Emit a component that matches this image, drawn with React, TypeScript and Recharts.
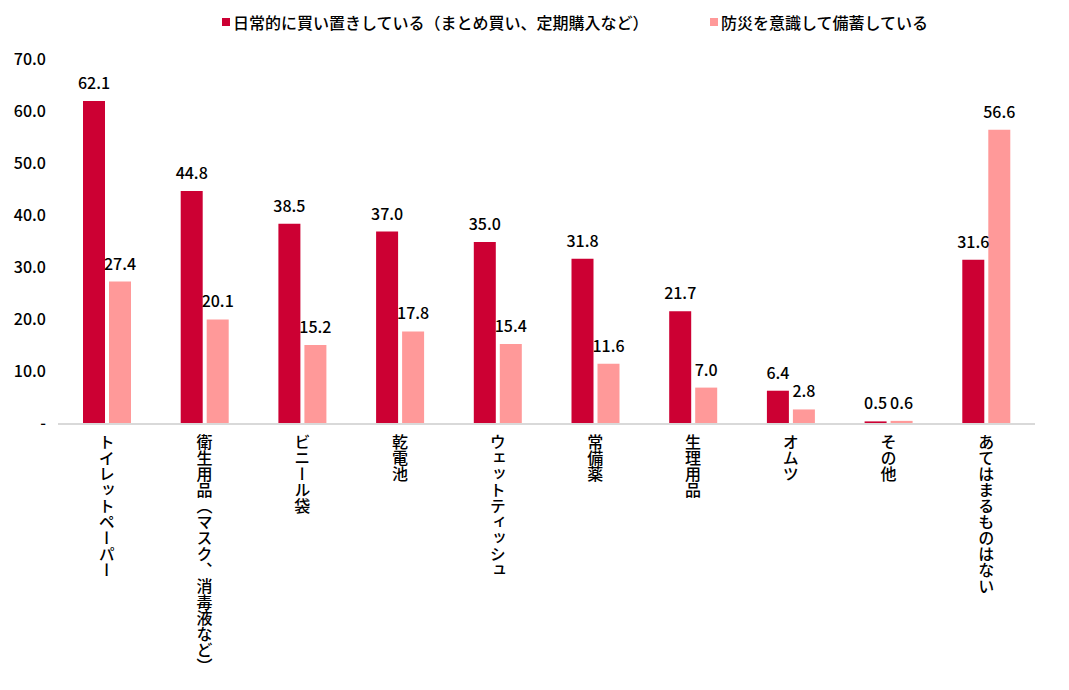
import React from "react";
import { BarChart, Bar, XAxis, YAxis, Legend, LabelList } from "recharts";

const categories = [
  "トイレットペーパー",
  "衛生用品（マスク、消毒液など）",
  "ビニール袋",
  "乾電池",
  "ウェットティッシュ",
  "常備薬",
  "生理用品",
  "オムツ",
  "その他",
  "あてはまるものはない",
];
const dailyStock = [62.1, 44.8, 38.5, 37.0, 35.0, 31.8, 21.7, 6.4, 0.5, 31.6];
const disasterStock = [27.4, 20.1, 15.2, 17.8, 15.4, 11.6, 7.0, 2.8, 0.6, 56.6];
const seriesNames = ["日常的に買い置きしている（まとめ買い、定期購入など）", "防災を意識して備蓄している"];
const yTicks = [0, 10, 20, 30, 40, 50, 60, 70];

const colors = ["#CC0033", "#FF9999"];
const FONT = '"Noto Sans CJK JP", "Noto Sans", sans-serif';
const W = 500;

const data = categories.map((c, i) => ({ name: c, a: dailyStock[i], b: disasterStock[i] }));

const XTick = (props: any) => {
  const { x, y, payload } = props;
  return (
    <text
      x={x}
      y={y + 2}
      fill="#000"
      fontSize={16}
      fontWeight={W}
      fontFamily={FONT}
      style={{ writingMode: "vertical-rl" as any }}
    >
      {payload.value}
    </text>
  );
};

const YTick = (props: any) => {
  const { y, payload } = props;
  const label = payload.value === 0 ? "-" : payload.value.toFixed(1);
  return (
    <text x={46} y={y} dy={5} textAnchor="end" fill="#000" fontSize={16} fontWeight={W} fontFamily={FONT}>
      {label}
    </text>
  );
};

const LegendContent = () => (
  <div style={{ position: "relative", height: 20, fontFamily: FONT, fontSize: 16, fontWeight: W, color: "#000" }}>
    {seriesNames.map((n, i) => (
      <div
        key={n}
        style={{ position: "absolute", left: i === 0 ? 222 : 710, top: 0, display: "flex", alignItems: "center", whiteSpace: "nowrap" }}
      >
        <span style={{ display: "inline-block", width: 8, height: 8, background: colors[i], marginRight: 3 }} />
        <span>{n}</span>
      </div>
    ))}
  </div>
);

const fmt = (v: any) => Number(v).toFixed(1);

export default function App() {
  return (
    <div style={{ position: "absolute", left: 0, top: 0, background: "#fff" }}>
      <BarChart
        width={1069}
        height={690}
        data={data}
        margin={{ top: 40, right: 34, left: 0, bottom: 16 }}
        barGap={4}
        barCategoryGap={25}
      >
        <Legend verticalAlign="top" align="left" content={<LegendContent />} wrapperStyle={{ top: 10, left: 0, width: 1069, height: 20 }} />
        <XAxis
          dataKey="name"
          interval={0}
          height={250}
          tick={<XTick />}
          tickLine={false}
          axisLine={{ stroke: "#D9D9D9", strokeWidth: 2 }}
        />
        <YAxis domain={[0, 70]} ticks={yTicks} width={58} tick={<YTick />} tickLine={false} axisLine={false} />
        <Bar dataKey="a" name={seriesNames[0]} fill={colors[0]} barSize={22} isAnimationActive={false}>
          <LabelList dataKey="a" position="top" offset={12} formatter={fmt} fill="#000" fontSize={16} fontWeight={W} fontFamily={FONT} />
        </Bar>
        <Bar dataKey="b" name={seriesNames[1]} fill={colors[1]} barSize={22} isAnimationActive={false}>
          <LabelList dataKey="b" position="top" offset={12} formatter={fmt} fill="#000" fontSize={16} fontWeight={W} fontFamily={FONT} />
        </Bar>
      </BarChart>
    </div>
  );
}
